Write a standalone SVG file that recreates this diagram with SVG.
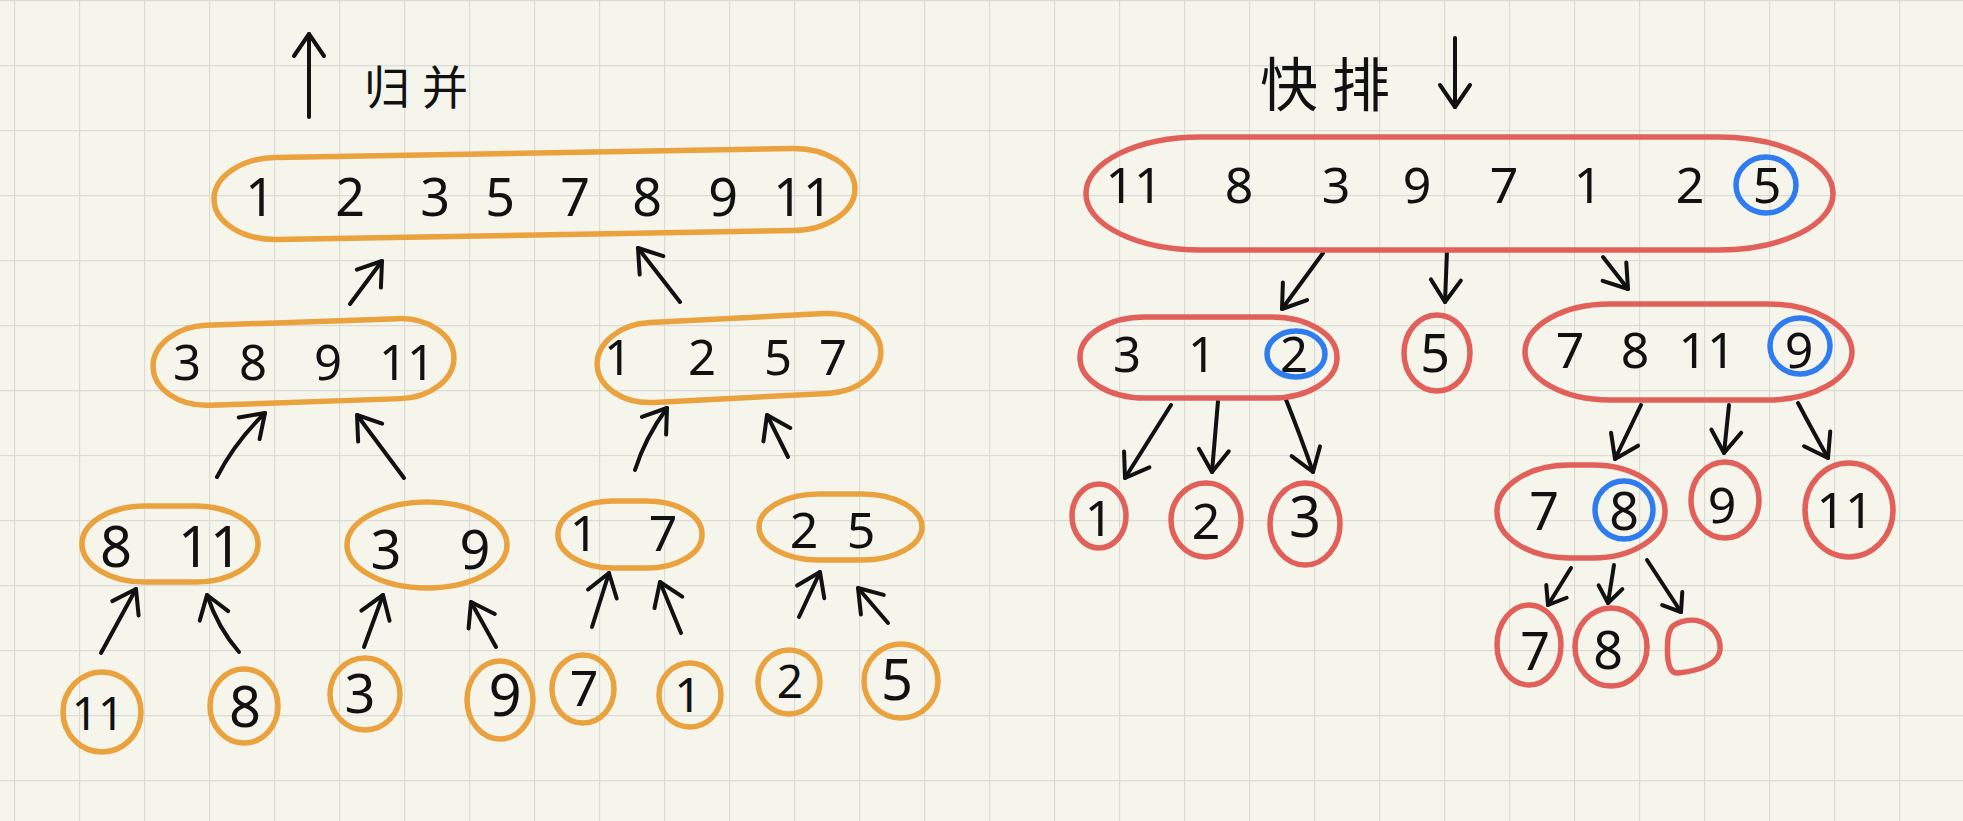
<svg xmlns="http://www.w3.org/2000/svg" width="1963" height="821" viewBox="0 0 1963 821">
<style>
.o{fill:none;stroke:#eaa23e;stroke-width:5.5}
.r{fill:none;stroke:#e2605a;stroke-width:5.5}
.b{fill:none;stroke:#2f7cf0;stroke-width:5.5}
.n{font-family:"Noto Sans","DejaVu Sans",sans-serif;fill:#111;text-anchor:middle}
.c{font-family:"Noto Sans CJK SC","Noto Sans",sans-serif;fill:#111}
.a{fill:none;stroke:#111;stroke-width:4;stroke-linecap:round;stroke-linejoin:round}
</style>
<defs>
<pattern id="grid" x="14" y="0" width="65" height="65" patternUnits="userSpaceOnUse">
<path d="M0.5,0 V65 M0,0.5 H65" fill="none" stroke="#dbdbd6" stroke-width="1.3"/>
</pattern>
<marker id="ah" viewBox="-30 -20 34 40" refX="0" refY="0" markerWidth="34" markerHeight="40" markerUnits="userSpaceOnUse" orient="auto">
<path d="M-22,-15 L0,0 L-22,15" fill="none" stroke="#111" stroke-width="4" stroke-linecap="round" stroke-linejoin="round"/>
</marker>
<marker id="as" viewBox="-24 -16 28 32" refX="0" refY="0" markerWidth="28" markerHeight="32" markerUnits="userSpaceOnUse" orient="auto">
<path d="M-16,-12 L0,0 L-16,12" fill="none" stroke="#111" stroke-width="4" stroke-linecap="round" stroke-linejoin="round"/>
</marker>
</defs>
<rect width="1963" height="821" fill="#f5f5ec"/>
<rect width="1963" height="821" fill="url(#grid)"/>

<g id="title-merge">
<path class="a" d="M309,117 L309,34" marker-end="url(#ah)"/>
<text class="c" x="364" y="104" font-size="46" letter-spacing="12">归并</text>
</g>
<g id="title-quick">
<text class="c" x="1260" y="106" font-size="58" letter-spacing="14">快排</text>
<path class="a" d="M1455,38 L1455,107" marker-end="url(#ah)"/>
</g>

<g id="connectors">
<path class="a" d="M350,304 L382,261" marker-end="url(#ah)"/>
<path class="a" d="M680,302 L638,248" marker-end="url(#ah)"/>
<path class="a" d="M217,477 Q235,442 265,413" marker-end="url(#ah)"/>
<path class="a" d="M404,478 L357,415" marker-end="url(#ah)"/>
<path class="a" d="M635,470 Q645,438 667,408" marker-end="url(#ah)"/>
<path class="a" d="M788,457 L767,415" marker-end="url(#ah)"/>
<path class="a" d="M101,653 L136,589" marker-end="url(#ah)"/>
<path class="a" d="M239,652 Q218,628 207,595" marker-end="url(#ah)"/>
<path class="a" d="M364,647 L383,595" marker-end="url(#ah)"/>
<path class="a" d="M496,647 L471,602" marker-end="url(#ah)"/>
<path class="a" d="M592,627 L609,573" marker-end="url(#ah)"/>
<path class="a" d="M681,633 L660,582" marker-end="url(#ah)"/>
<path class="a" d="M799,617 L820,572" marker-end="url(#ah)"/>
<path class="a" d="M888,623 L858,588" marker-end="url(#ah)"/>
<path class="a" d="M1323,253 L1282,309" marker-end="url(#ah)"/>
<path class="a" d="M1447,251 L1445,302" marker-end="url(#ah)"/>
<path class="a" d="M1603,257 L1628,289" marker-end="url(#ah)"/>
<path class="a" d="M1171,405 L1125,478" marker-end="url(#ah)"/>
<path class="a" d="M1218,401 L1212,472" marker-end="url(#ah)"/>
<path class="a" d="M1285,397 Q1302,440 1313,472" marker-end="url(#ah)"/>
<path class="a" d="M1641,405 L1615,459" marker-end="url(#ah)"/>
<path class="a" d="M1729,405 L1724,453" marker-end="url(#ah)"/>
<path class="a" d="M1798,403 Q1815,435 1828,458" marker-end="url(#ah)"/>
<path class="a" d="M1571,568 L1548,605" marker-end="url(#as)"/>
<path class="a" d="M1614,565 L1608,603" marker-end="url(#as)"/>
<path class="a" d="M1647,560 L1681,612" marker-end="url(#as)"/>
</g>

<g id="m-top">
<rect class="o" x="214" y="153" width="641" height="82" rx="62" ry="41" transform="rotate(-1 535 194)"/>
<text class="n" font-size="52" y="216"><tspan x="260">1</tspan><tspan x="350">2</tspan><tspan x="435">3</tspan><tspan x="500">5</tspan><tspan x="575">7</tspan><tspan x="647">8</tspan><tspan x="723">9</tspan><tspan x="803">11</tspan></text>
</g>
<g id="m-3-8-9-11">
<rect class="o" x="153" y="322" width="301" height="80" rx="55" ry="40" transform="rotate(-2 303 362)"/>
<text class="n" font-size="49" y="380"><tspan x="187">3</tspan><tspan x="253">8</tspan><tspan x="328">9</tspan><tspan x="407">11</tspan></text>
</g>
<g id="m-1-2-5-7">
<rect class="o" x="597" y="318" width="284" height="80" rx="55" ry="40" transform="rotate(-3 739 358)"/>
<text class="n" font-size="49" y="375"><tspan x="618">1</tspan><tspan x="702">2</tspan><tspan x="778">5</tspan><tspan x="833">7</tspan></text>
</g>
<g id="m-8-11">
<rect class="o" x="82" y="506" width="176" height="76" rx="62" ry="38"/>
<text class="n" font-size="56" y="567"><tspan x="116">8</tspan><tspan x="210">11</tspan></text>
</g>
<g id="m-3-9">
<ellipse class="o" cx="427" cy="545" rx="80" ry="43"/>
<text class="n" font-size="54" y="569"><tspan x="386">3</tspan><tspan x="475">9</tspan></text>
</g>
<g id="m-1-7">
<rect class="o" x="558" y="501" width="144" height="67" rx="55" ry="33"/>
<text class="n" font-size="50" y="551"><tspan x="584">1</tspan><tspan x="663">7</tspan></text>
</g>
<g id="m-2-5">
<rect class="o" x="759" y="494" width="163" height="66" rx="60" ry="33"/>
<text class="n" font-size="50" y="548"><tspan x="804">2</tspan><tspan x="861">5</tspan></text>
</g>
<g id="m-leaf-11">
<ellipse class="o" cx="102" cy="712" rx="39" ry="40"/>
<text class="n" font-size="46" x="98" y="730">11</text>
</g>
<g id="m-leaf-8">
<ellipse class="o" cx="244" cy="706" rx="34" ry="37"/>
<text class="n" font-size="56" x="245" y="727">8</text>
</g>
<g id="m-leaf-3">
<ellipse class="o" cx="365" cy="694" rx="35" ry="36"/>
<text class="n" font-size="54" x="360" y="713">3</text>
</g>
<g id="m-leaf-9">
<ellipse class="o" cx="500" cy="700" rx="33" ry="39"/>
<text class="n" font-size="58" x="505" y="716">9</text>
</g>
<g id="m-leaf-7">
<ellipse class="o" cx="583" cy="689" rx="31" ry="34"/>
<text class="n" font-size="50" x="584" y="706">7</text>
</g>
<g id="m-leaf-1">
<ellipse class="o" cx="690" cy="695" rx="31" ry="32"/>
<text class="n" font-size="48" x="688" y="712">1</text>
</g>
<g id="m-leaf-2">
<ellipse class="o" cx="789" cy="682" rx="31" ry="32"/>
<text class="n" font-size="46" x="790" y="698">2</text>
</g>
<g id="m-leaf-5">
<ellipse class="o" cx="901" cy="681" rx="37" ry="37"/>
<text class="n" font-size="56" x="897" y="700">5</text>
</g>

<g id="q-top">
<rect class="r" x="1086" y="137" width="747" height="113" rx="115" ry="56"/>
<text class="n" font-size="50" y="203"><tspan x="1134">11</tspan><tspan x="1239">8</tspan><tspan x="1336">3</tspan><tspan x="1417">9</tspan><tspan x="1504">7</tspan><tspan x="1588">1</tspan><tspan x="1690">2</tspan><tspan x="1767">5</tspan></text>
<ellipse class="b" cx="1766" cy="185" rx="30" ry="28"/>
</g>
<g id="q-3-1-2">
<rect class="r" x="1080" y="317" width="257" height="81" rx="65" ry="40"/>
<text class="n" font-size="49" y="372"><tspan x="1127">3</tspan><tspan x="1202">1</tspan><tspan x="1294">2</tspan></text>
<ellipse class="b" cx="1296" cy="354" rx="29" ry="23"/>
</g>
<g id="q-5">
<ellipse class="r" cx="1437" cy="353" rx="33" ry="38"/>
<text class="n" font-size="52" x="1435" y="372">5</text>
</g>
<g id="q-7-8-11-9">
<rect class="r" x="1525" y="304" width="327" height="96" rx="85" ry="48"/>
<text class="n" font-size="50" y="368"><tspan x="1570">7</tspan><tspan x="1635">8</tspan><tspan x="1707">11</tspan><tspan x="1799">9</tspan></text>
<ellipse class="b" cx="1800" cy="346" rx="30" ry="28"/>
</g>
<g id="q-leaf-1">
<ellipse class="r" cx="1099" cy="516" rx="27" ry="32"/>
<text class="n" font-size="50" x="1099" y="536">1</text>
</g>
<g id="q-leaf-2">
<ellipse class="r" cx="1206" cy="520" rx="35" ry="37"/>
<text class="n" font-size="50" x="1206" y="539">2</text>
</g>
<g id="q-leaf-3">
<ellipse class="r" cx="1305" cy="524" rx="35" ry="41"/>
<text class="n" font-size="56" x="1305" y="537">3</text>
</g>
<g id="q-7-8">
<rect class="r" x="1497" y="465" width="168" height="93" rx="72" ry="46"/>
<text class="n" font-size="52" y="530"><tspan x="1544">7</tspan><tspan x="1624">8</tspan></text>
<ellipse class="b" cx="1624" cy="510" rx="29" ry="29"/>
</g>
<g id="q-9">
<ellipse class="r" cx="1725" cy="500" rx="34" ry="38"/>
<text class="n" font-size="50" x="1722" y="523">9</text>
</g>
<g id="q-11">
<ellipse class="r" cx="1849" cy="510" rx="44" ry="47"/>
<text class="n" font-size="50" x="1845" y="528">11</text>
</g>
<g id="q-leaf-7">
<ellipse class="r" cx="1529" cy="645" rx="32" ry="40"/>
<text class="n" font-size="52" x="1535" y="670">7</text>
</g>
<g id="q-leaf-8">
<ellipse class="r" cx="1611" cy="647" rx="36" ry="39"/>
<text class="n" font-size="52" x="1608" y="669">8</text>
</g>
<g id="q-leaf-empty">
<path class="r" d="M1676,624 C1700,612 1722,630 1720,650 C1718,666 1696,671 1678,673 C1666,674 1667,650 1668,638 C1669,630 1671,626 1676,624 Z"/>
</g>
</svg>
